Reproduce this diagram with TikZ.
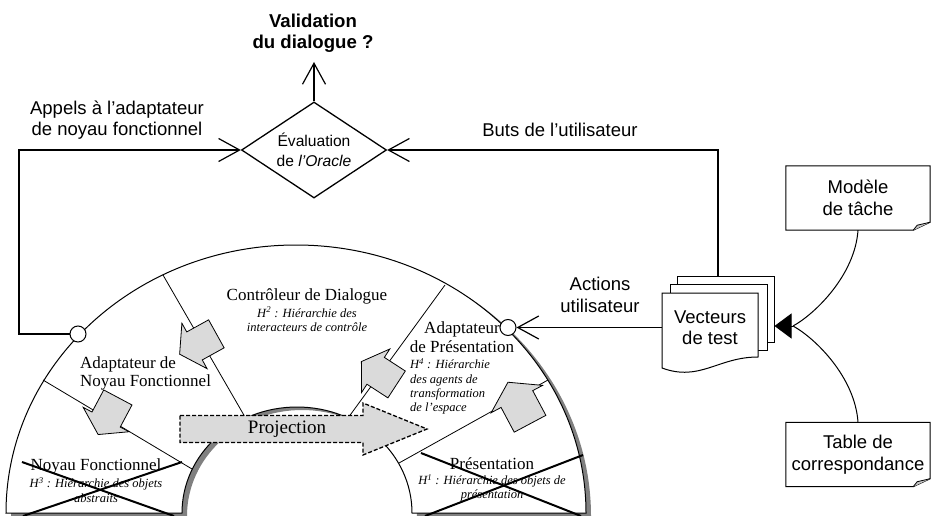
\documentclass[tikz,border=0pt]{standalone}
\usepackage{fontspec}
\setmainfont{Liberation Serif}
\newfontfamily\labelfont{Liberation Sans}
\usetikzlibrary{shapes.geometric,arrows.meta,calc}

\definecolor{arrowgrey}{HTML}{DADADA}
\definecolor{shadowgrey}{HTML}{808080}
\definecolor{foldgrey}{HTML}{C4C4C4}

\tikzset{
  lab/.style={font=\labelfont\fontsize{18.5}{21.5}\selectfont, align=center, inner sep=0pt},
  headline/.style={font=\labelfont\bfseries\fontsize{18.6}{21.5}\selectfont, align=center, inner sep=0pt},
  secname/.style={font=\fontsize{17}{19}\selectfont, inner sep=0pt},
  sechier/.style={font=\itshape\fontsize{12.5}{14.4}\selectfont, inner sep=0pt},
  conn/.style={line width=1.5pt},
  barb/.style={conn, -{Straight Barb[length=21pt,width=23pt,line width=1.2pt]}},
  port/.style={circle, draw, fill=white, line width=1pt, minimum size=16pt, inner sep=0pt},
  divider/.style={line width=0.8pt},
  cross/.style={line width=2pt},
  note/.style={lab, minimum width=144pt, minimum height=64pt},
  page/.style={draw, fill=white, line width=1pt, minimum width=97pt, minimum height=66pt, inner sep=0pt},
  % broad grey block arrow showing the flow from one layer to the next
  pics/flowarrow/.style={code={
    \filldraw[fill=arrowgrey, line width=0.8pt]
      (-21,-16) -- (4,-16) -- (4,-26) -- (21,0) -- (4,26) -- (4,16) -- (-21,16) -- cycle;
  }},
}

\begin{document}
\begin{tikzpicture}[x=1pt,y=1pt]
\useasboundingbox (0,0) rectangle (931,-516);

% ---- half ring of the architecture: shadow, body ----
\fill[shadowgrey, shift={(5,-3)}]
  (586,-513) arc[start angle=0,end angle=180,x radius=290,y radius=268]
  -- (182,-513) arc[start angle=180,end angle=0,x radius=115,y radius=106] -- cycle;
\filldraw[fill=white, line width=1pt]
  (586,-513) arc[start angle=0,end angle=180,x radius=290,y radius=268]
  -- (182,-513) arc[start angle=180,end angle=0,x radius=115,y radius=106] -- cycle;

% section boundaries
\draw[divider] (43,-380) -- (192,-469);
\draw[divider] (163,-275) -- (245,-417);
\draw[divider] (445,-285) -- (348,-418);
\draw[divider] (548,-380) -- (399,-463);

% section texts
\node[secname] (ctrl) at (307,-296) {Contrôleur de Dialogue};
\node[sechier, align=center] (ctrlh) at (307,-319.5) {H\textsuperscript{2} : Hiérarchie des\\interacteurs de contrôle};
\node[secname, align=left, anchor=west, font=\fontsize{17}{18}\selectfont] (anf) at (80,-373) {Adaptateur de\\Noyau Fonctionnel};
\node[secname, align=center] (ap) at (462,-337.5) {Adaptateur\\de Présentation};
\node[sechier, align=left, anchor=west] (aph) at (410,-386.5) {H\textsuperscript{4} : Hiérarchie\\des agents de\\transformation\\de l’espace};
\node[secname] (nf) at (96,-466) {Noyau Fonctionnel};
\node[sechier, align=center] (nfh) at (96,-490) {H\textsuperscript{3} : Hiérarchie des objets\\abstraits};
\node[secname] (pr) at (492,-464) {Présentation};
\node[sechier, align=center] (prh) at (492,-488) {H\textsuperscript{1} : Hiérarchie des objets de\\présentation};

% crossed-out layers
\draw[cross] (22,-462) -- (174,-516);
\draw[cross] (182,-462) -- (23,-516);
\draw[cross] (421,-453) -- (581,-516);
\draw[cross] (583,-455) -- (425,-516);

% control flow between layers
\pic[rotate=209] (flowA) at (198,-344) {flowarrow};
\pic[rotate=242] (flowB) at (108,-416) {flowarrow};
\pic[rotate=118, scale=1.12] (flowC) at (519,-403) {flowarrow};
\pic[rotate=147] (flowD) at (379,-373) {flowarrow};

% projection
\draw[line width=1.3pt, dash pattern=on 4pt off 2pt, fill=arrowgrey]
  (180,-415.5) -- (363,-415.5) -- (363,-403) -- (427,-429) -- (363,-455) -- (363,-442.5) -- (180,-442.5) -- cycle;
\node[font=\fontsize{19}{21}\selectfont, inner sep=0pt] (proj) at (287,-429) {Projection};

% ports on the ring
\node[port] (portL) at (78,-334) {};
\node[port] (portR) at (508,-327.5) {};

% ---- oracle ----
\node[diamond, draw, fill=white, line width=1.3pt, aspect=1.5, inner sep=0pt,
      minimum width=145pt, minimum height=96pt, align=center,
      font=\labelfont\fontsize{15.6}{20}\selectfont] (eval) at (314,-150) {Évaluation\\de \textit{l’Oracle}};
\node[headline] (valid) at (313,-33) {Validation\\du dialogue ?};
\coordinate (vtip) at (314,-62);
\draw[barb] (eval.north) -- (vtip);

\coordinate (lcorner) at (19,-334);
\draw[barb] (portL.west) -- (lcorner) |- (eval.west);
\node[lab] (appels) at (117,-120) {Appels à l’adaptateur\\de noyau fonctionnel};

% ---- test vectors ----
\node[page] (vback) at (725.5,-309) {};
\node[page] (vmid) at (718.5,-317) {};
\filldraw[fill=white, line width=1pt] (662,-293) -- (758,-293) -- (758,-357)
  .. controls (718,-357) and (700,-382) .. (662,-368) -- cycle;
\node[lab, minimum width=96pt] (vect) at (710,-327.5) {Vecteurs\\de test};

\coordinate (vtop) at (718,-276);
\draw[barb] (vtop) |- (eval.east);
\node[lab] (butslbl) at (560,-130) {Buts de l’utilisateur};

\draw[barb] (vect.west) -- (portR.east);
\node[lab] (actions) at (600,-295) {Actions\\utilisateur};

% ---- sources of the test vectors ----
\node[note] (modele) at (858,-198) {Modèle\\de tâche};
\draw[line width=1pt] (modele.north west) -- (modele.north east) -- ([yshift=8pt]modele.south east)
  -- ([xshift=-17pt]modele.south east) -- (modele.south west) -- cycle;
\filldraw[fill=foldgrey, line width=0.8pt] ([yshift=8pt]modele.south east)
  -- ([xshift=-13pt,yshift=5pt]modele.south east) -- ([xshift=-17pt]modele.south east);

\node[note] (table) at (858,-454.5) {Table de\\correspondance};
\draw[line width=1pt] (table.north west) -- (table.north east) -- ([yshift=8pt]table.south east)
  -- ([xshift=-17pt]table.south east) -- (table.south west) -- cycle;
\filldraw[fill=foldgrey, line width=0.8pt] ([yshift=8pt]table.south east)
  -- ([xshift=-13pt,yshift=5pt]table.south east) -- ([xshift=-17pt]table.south east);

\coordinate (merge) at (793,-326);
\draw[line width=1pt] (modele.south) .. controls (855,-275) and (815,-314) .. (merge);
\draw[line width=1pt] (table.north) .. controls (855,-377) and (815,-338) .. (merge);
\draw[line width=1pt, -{Triangle[length=17pt,width=25pt]}] (merge) -- (vback.east |- merge);
\end{tikzpicture}
\end{document}
